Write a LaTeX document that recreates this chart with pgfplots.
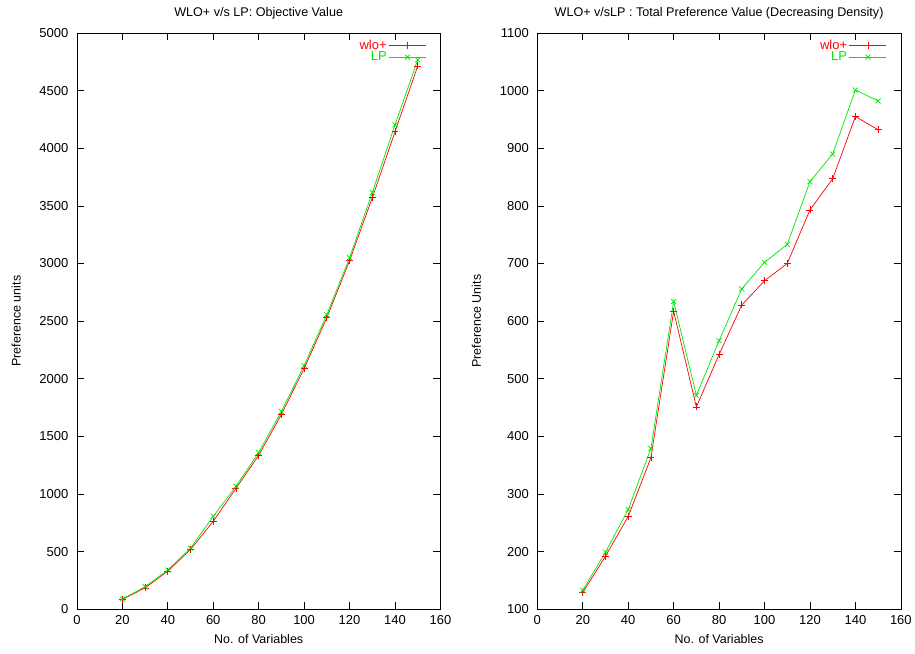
\documentclass[border=0pt]{standalone}
\usepackage{pgfplots}
\pgfplotsset{compat=1.18}
\usepackage{fontspec}
\setmainfont{Liberation Sans}
\definecolor{gpred}{RGB}{255,0,0}
\definecolor{gpgreen}{RGB}{0,230,0}
% legend text coloured through the font
\newcommand\redtext[1]{{\addfontfeatures{Color=FF0000}#1}}
\newcommand\greentext[1]{{\addfontfeatures{Color=00E600}#1}}

\pgfplotsset{
  gp/.style={
    scale only axis, width=364pt, height=577pt,
    xmin=0, xmax=160, xtick={0,20,...,160},
    tick align=inside, major tick length=7pt,
    tick style={black, line width=0.6pt},
    axis line style={line width=0.7pt},
    font=\fontsize{12.5}{14}\selectfont,
    tick label style={font=\fontsize{13}{15}\selectfont},
    xticklabel style={yshift=-3pt},
    yticklabel style={xshift=-5pt},
    /pgf/number format/assume math mode=true,
    /pgf/number format/1000 sep={},
    scaled y ticks=false,
    xlabel={No. of Variables},
    xlabel style={yshift=-3pt},
    ylabel shift=12pt,
    title style={yshift=4pt, font=\fontsize{12.6}{14}\selectfont},
    legend style={draw=none, fill=none, at={(0.97,0.995)}, anchor=north east,
      font=\fontsize{13}{14}\selectfont, row sep=-3pt,
      /tikz/every even column/.append style={column sep=4pt}},
    legend cell align=right, legend plot pos=right,
    legend image code/.code={\draw[mark repeat=2,mark phase=2,#1]
      plot coordinates {(0pt,0pt)(18.5pt,0pt)(37pt,0pt)};},
  },
  wlo/.style={color=gpred, line width=0.7pt, mark=+, mark size=3.5pt},
  lp/.style={color=gpgreen, line width=0.7pt, mark=x, mark size=3.5pt},
}

\begin{document}
\begin{tikzpicture}
\begin{axis}[gp, at={(0pt,0pt)},
  ymin=0, ymax=5000, ytick={0,500,...,5000},
  title={WLO+ v/s LP: Objective Value},
  ylabel={Preference units}]
\addplot[wlo] coordinates {
  (20,85) (30,185) (40,330) (50,518) (60,763) (70,1048) (80,1335)
  (90,1690) (100,2088) (110,2530) (120,3024) (130,3570) (140,4142) (150,4714)};
\addlegendentry{\redtext{wlo+}}
\addplot[lp] coordinates {
  (20,88) (30,195) (40,340) (50,530) (60,806) (70,1066) (80,1360)
  (90,1716) (100,2114) (110,2556) (120,3050) (130,3614) (140,4203) (150,4766)};
\addlegendentry{\greentext{LP}}
\end{axis}

\begin{axis}[gp, at={(461pt,0pt)},
  ymin=100, ymax=1100, ytick={100,200,...,1100},
  title={WLO+ v/sLP : Total Preference Value (Decreasing Density)},
  ylabel={Preference Units}]
\addplot[wlo] coordinates {
  (20,129) (30,192) (40,261) (50,363) (60,617) (70,451) (80,542)
  (90,628) (100,670) (110,700) (120,793) (130,847) (140,955) (150,932)};
\addlegendentry{\redtext{wlo+}}
\addplot[lp] coordinates {
  (20,133) (30,199) (40,273) (50,379) (60,634) (70,471) (80,566)
  (90,656) (100,702) (110,733) (120,842) (130,890) (140,1001) (150,982)};
\addlegendentry{\greentext{LP}}
\end{axis}
\path (-77pt,-44pt) rectangle (838pt,610pt);
\end{tikzpicture}
\end{document}
